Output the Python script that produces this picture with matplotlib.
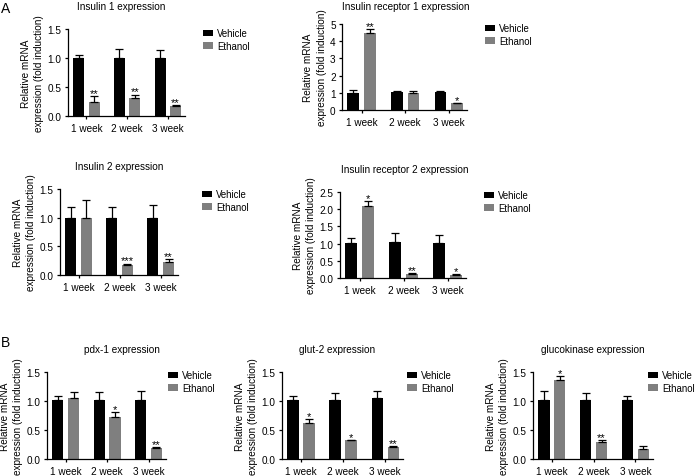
import matplotlib
matplotlib.use("Agg")
import matplotlib.pyplot as plt
from matplotlib.patches import Patch
import numpy as np

plt.rcParams.update({
    "font.family": ["Liberation Sans", "DejaVu Sans"],
    "font.size": 7.2,
    "axes.linewidth": 0.9,
    "xtick.major.width": 0.9,
    "ytick.major.width": 0.9,
    "xtick.major.size": 2.5,
    "ytick.major.size": 2.5,
    "xtick.major.pad": 2.5,
    "ytick.major.pad": 2,
})

W, H = 697, 477
BLACK = "#000000"
GREY = "#7f7f7f"

WEEKS = ["1 week", "2 week", "3 week"]
SERIES = ["Vehicle", "Ethanol"]

# --- data (mean, upper SEM) ---
ins1_veh = [1.00, 1.00, 1.00]
ins1_veh_err = [0.06, 0.15, 0.14]
ins1_eth = [0.25, 0.31, 0.17]
ins1_eth_err = [0.10, 0.06, 0.02]
ins1_stars = ["**", "**", "**"]

ir1_veh = [1.00, 1.03, 1.03]
ir1_veh_err = [0.16, 0.06, 0.06]
ir1_eth = [4.46, 0.97, 0.39]
ir1_eth_err = [0.25, 0.15, 0.03]
ir1_stars = ["**", "", "*"]

ins2_veh = [1.00, 1.00, 1.00]
ins2_veh_err = [0.18, 0.18, 0.22]
ins2_eth = [0.99, 0.18, 0.23]
ins2_eth_err = [0.31, 0.02, 0.05]
ins2_stars = ["", "***", "**"]

ir2_veh = [1.02, 1.04, 1.03]
ir2_veh_err = [0.14, 0.26, 0.23]
ir2_eth = [2.08, 0.12, 0.09]
ir2_eth_err = [0.17, 0.02, 0.02]
ir2_stars = ["*", "**", "*"]

pdx_veh = [1.02, 1.02, 1.02]
pdx_veh_err = [0.06, 0.13, 0.15]
pdx_eth = [1.06, 0.73, 0.19]
pdx_eth_err = [0.09, 0.08, 0.02]
pdx_stars = ["", "*", "**"]

glut_veh = [1.02, 1.02, 1.05]
glut_veh_err = [0.06, 0.11, 0.12]
glut_eth = [0.62, 0.32, 0.20]
glut_eth_err = [0.07, 0.01, 0.02]
glut_stars = ["*", "*", "**"]

gk_veh = [1.02, 1.02, 1.02]
gk_veh_err = [0.16, 0.11, 0.06]
gk_eth = [1.36, 0.30, 0.18]
gk_eth_err = [0.07, 0.03, 0.05]
gk_stars = ["*", "**", ""]

# panels: title, data, yticks, tick format, axes px box (x0, ytop, x1, ybot),
# title centre px, legend top-left px
PANELS = [
    ("Insulin 1 expression", ins1_veh, ins1_veh_err, ins1_eth, ins1_eth_err, ins1_stars,
     [0, 0.5, 1.0, 1.5], "{:.1f}", (68, 30, 185, 117), (121, 7), (203, 29)),
    ("Insulin receptor 1 expression", ir1_veh, ir1_veh_err, ir1_eth, ir1_eth_err, ir1_stars,
     [0, 1, 2, 3, 4, 5], "{:.0f}", (342, 25, 467, 111), (406, 7), (485, 24)),
    ("Insulin 2 expression", ins2_veh, ins2_veh_err, ins2_eth, ins2_eth_err, ins2_stars,
     [0, 0.5, 1.0, 1.5], "{:.1f}", (60, 190, 178, 276), (119, 167), (202, 190)),
    ("Insulin receptor 2 expression", ir2_veh, ir2_veh_err, ir2_eth, ir2_eth_err, ir2_stars,
     [0, 0.5, 1.0, 1.5, 2.0, 2.5], "{:.1f}", (340, 193, 466, 279), (405, 170), (484, 191)),
    ("pdx-1 expression", pdx_veh, pdx_veh_err, pdx_eth, pdx_eth_err, pdx_stars,
     [0, 0.5, 1.0, 1.5], "{:.1f}", (47, 373, 166, 460), (122, 350), (168, 371)),
    ("glut-2 expression", glut_veh, glut_veh_err, glut_eth, glut_eth_err, glut_stars,
     [0, 0.5, 1.0, 1.5], "{:.1f}", (282, 373, 403, 460), (337, 350), (407, 371)),
    ("glucokinase expression", gk_veh, gk_veh_err, gk_eth, gk_eth_err, gk_stars,
     [0, 0.5, 1.0, 1.5], "{:.1f}", (533, 373, 653, 460), (593, 350), (648, 371)),
]

BAR_W = 0.27
OFF = 0.19


def fx(px):
    return px / W


def fy(py):
    return 1 - py / H


def draw(fig, panel):
    (title, veh, veh_err, eth, eth_err, stars, yticks, fmt,
     box, tpos, lpos) = panel
    x0, y0, x1, y1 = box
    ax = fig.add_axes([fx(x0), fy(y1), fx(x1) - fx(x0), fy(y0) - fy(y1)])
    x = np.arange(len(WEEKS))
    ekw = dict(ecolor=BLACK, elinewidth=0.9, capsize=3, capthick=0.9)
    ax.bar(x - OFF, veh, BAR_W, color=BLACK,
           yerr=[np.zeros(3), veh_err], error_kw=ekw)
    ax.bar(x + OFF, eth, BAR_W, color=GREY,
           yerr=[np.zeros(3), eth_err], error_kw=ekw)
    for i, s in enumerate(stars):
        if s:
            ax.text(x[i] + OFF, eth[i] + eth_err[i], s, ha="center",
                    va="baseline", fontsize=8)
    ax.set_xlim(-0.45, 2.42)
    ax.set_ylim(yticks[0], yticks[-1])
    ax.set_yticks(yticks)
    ax.set_yticklabels([fmt.format(v) for v in yticks])
    ax.set_xticks(x)
    ax.set_xticklabels(WEEKS)
    ax.set_ylabel("Relative mRNA\nexpression (fold induction)",
                  linespacing=1.4, labelpad=2.5)
    for s in ("top", "right"):
        ax.spines[s].set_visible(False)
    ax.spines["left"].set_bounds(yticks[0], yticks[-1])
    fig.text(fx(tpos[0]), fy(tpos[1]), title, ha="center", va="center",
             fontsize=7.2)
    handles = [Patch(facecolor=BLACK, label=SERIES[0]),
               Patch(facecolor=GREY, label=SERIES[1])]
    ax.legend(handles=handles, loc="upper left",
              bbox_to_anchor=(fx(lpos[0]), fy(lpos[1])),
              bbox_transform=fig.transFigure, frameon=False, borderpad=0,
              borderaxespad=0, handlelength=1.0, handleheight=0.6,
              handletextpad=0.5, labelspacing=0.3, fontsize=6.9)


fig = plt.figure(figsize=(W / 100, H / 100), dpi=100)
for p in PANELS:
    draw(fig, p)
fig.text(fx(1), fy(9), "A", ha="left", va="center", fontsize=10)
fig.text(fx(1), fy(343), "B", ha="left", va="center", fontsize=10)
fig.savefig("out.png", dpi=100)
